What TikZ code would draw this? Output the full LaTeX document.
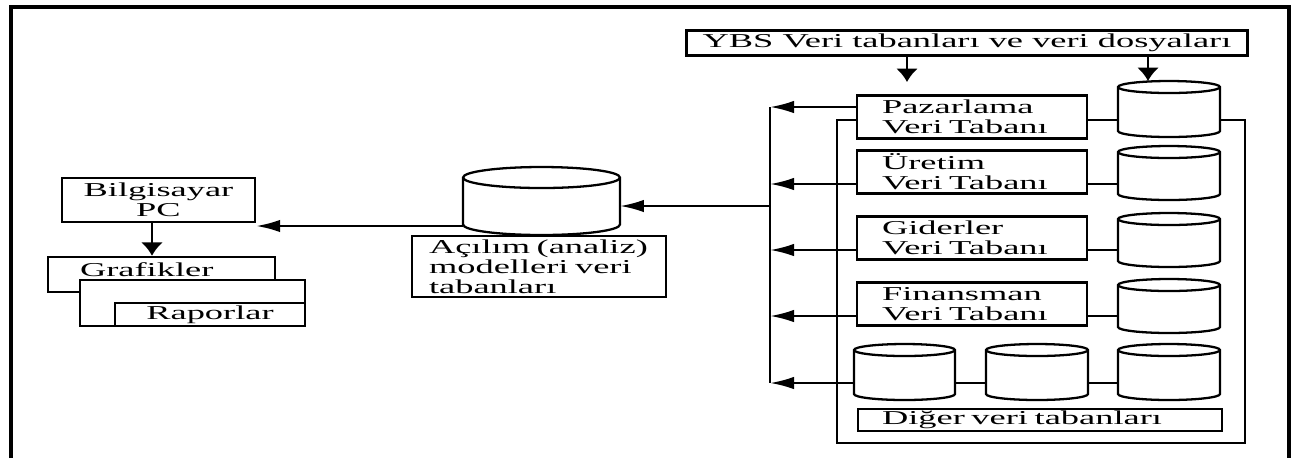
\documentclass[tikz,border=0pt]{standalone}
\usepackage{fontspec}
\setmainfont{Liberation Serif}[FakeStretch=1.85]
\usetikzlibrary{arrows.meta}

% database drum: name, position, width, height, cap
\newcommand{\dbcyl}[5]{%
    \node[dbspace, minimum width=#3, minimum height=#4] (#1) at (#2) {};
    \draw[link, fill=white]
        ([yshift=-#5]#1.north west) -- ([yshift=#5]#1.south west)
        arc[start angle=180, end angle=360, x radius=0.5*#3, y radius=#5]
        -- ([yshift=-#5]#1.north east)
        arc[start angle=0, end angle=180, x radius=0.5*#3, y radius=#5]
        -- cycle;
    \draw[link]
        ([yshift=-#5]#1.north east)
        arc[start angle=0, end angle=-180, x radius=0.5*#3, y radius=#5];
}

\begin{document}
\begin{tikzpicture}[
    x=0.02cm, y=-0.02cm,
    font=\fontsize{11.2}{11.5}\selectfont,
    box/.style={
        draw,
        line width=1.4pt,
        fill=white,
        inner sep=0pt
    },
    dbbox/.style={
        box,
        minimum width=4.6cm,
        minimum height=0.86cm,
        text width=3.6cm,
        align=left
    },
    dbspace/.style={
        inner sep=0pt,
        outer sep=0pt
    },
    harr/.style={
        -{Latex[length=0.48cm,width=0.25cm]},
        line width=1.3pt
    },
    varr/.style={
        -{Latex[length=0.27cm,width=0.45cm]},
        line width=1.6pt
    },
    link/.style={
        line width=1.3pt
    }
]
\useasboundingbox (0,0) rectangle (1295,458);

% Frame
\draw[line width=2pt] (11,458) -- (11,7) -- (1289,7) -- (1289,458);

% Source
\node[box, minimum width=11.22cm, minimum height=0.5cm] (ybs) at (967,43) {YBS Veri tabanları ve veri dosyaları};

% Group of databases
\node[draw, line width=1.4pt, minimum width=8.16cm, minimum height=6.46cm] (grp) at (1041,281.5) {};

\node[dbbox] (paz) at (972,117) {Pazarlama\\Veri Tabanı};
\dbcyl{pazdb}{1169,109}{2.04cm}{1.12cm}{0.12cm}
\node[dbbox] (ure) at (972,172) {Üretim\\Veri Tabanı};
\dbcyl{uredb}{1169,173}{2.04cm}{1.08cm}{0.12cm}
\node[dbbox] (gid) at (972,238) {Giderler\\Veri Tabanı};
\dbcyl{giddb}{1169,240}{2.04cm}{1.08cm}{0.12cm}
\node[dbbox] (fin) at (972,304) {Finansman\\Veri Tabanı};
\dbcyl{findb}{1169,306}{2.04cm}{1.08cm}{0.12cm}

\dbcyl{oth1}{904.5,372}{2.02cm}{1.12cm}{0.12cm}
\dbcyl{oth2}{1037,372}{2.04cm}{1.12cm}{0.12cm}
\dbcyl{oth3}{1169,372}{2.04cm}{1.12cm}{0.12cm}
\node[box, minimum width=7.28cm, minimum height=0.44cm, text width=6.32cm, align=left] (oth) at (1040,420) {Diğer veri tabanları};

% Inputs
\coordinate (pazin) at (907,82);
\coordinate (pazdbin) at ([xshift=-0.42cm]pazdb.north);
\draw[varr] (ybs.south -| pazin) -- (pazin);
\draw[varr] (ybs.south -| pazdbin) -- (pazdbin);

% Box to drum
\foreach \n in {ure,gid,fin}
    \draw[link] ([yshift=-0.24cm]\n.east) -- ([yshift=-0.24cm]\n.east -| \n db.west);

% Bus
\coordinate (bustop) at (770,107);
\coordinate (busbot) at (770,383);
\draw[link] (bustop) -- (busbot);

\draw[link] (oth1.east |- busbot) -- (oth2.west |- busbot);
\draw[link] (oth2.east |- busbot) -- (oth3.west |- busbot);

\draw[harr] (paz.west |- bustop) -- (bustop);
\foreach \n in {ure,gid,fin}
    \draw[harr] ([yshift=-0.24cm]\n.west) -- ([yshift=-0.24cm]\n.west -| bustop);
\draw[harr] (oth1.west |- busbot) -- (busbot);

% Analysis models
\dbcyl{acdb}{541.5,201}{3.14cm}{1.36cm}{0.21cm}
\node[box, minimum width=5.08cm, minimum height=1.22cm, text width=4.4cm, align=left] (ac) at (539,266.5) {Açılım (analiz)\\modelleri veri\\tabanları};

\coordinate (acin) at ([yshift=-0.1cm]acdb.east);
\draw[harr] (acin -| bustop) -- (acin);

% PC and outputs
\node[box, minimum width=3.86cm, minimum height=0.88cm, align=center] (pc) at (158.5,200) {Bilgisayar\\PC};
\coordinate (acout) at ([yshift=-0.5cm]acdb.west);
\draw[harr] (acout) -- (acout -| pc.east);

\node[box, minimum width=4.54cm, minimum height=0.7cm, text width=3.26cm, align=left, text depth=0.2cm] (graf) at (161.5,274.5) {Grafikler};
\node[box, minimum width=4.5cm, minimum height=0.92cm] (rapbk) at (192.5,303) {};
\node[box, minimum width=3.8cm, minimum height=0.46cm] (rap) at (210,314.5) {Raporlar};

\coordinate (pcout) at ([xshift=-0.13cm]pc.south);
\draw[varr] (pcout) -- (pcout |- graf.north);

\end{tikzpicture}
\end{document}
